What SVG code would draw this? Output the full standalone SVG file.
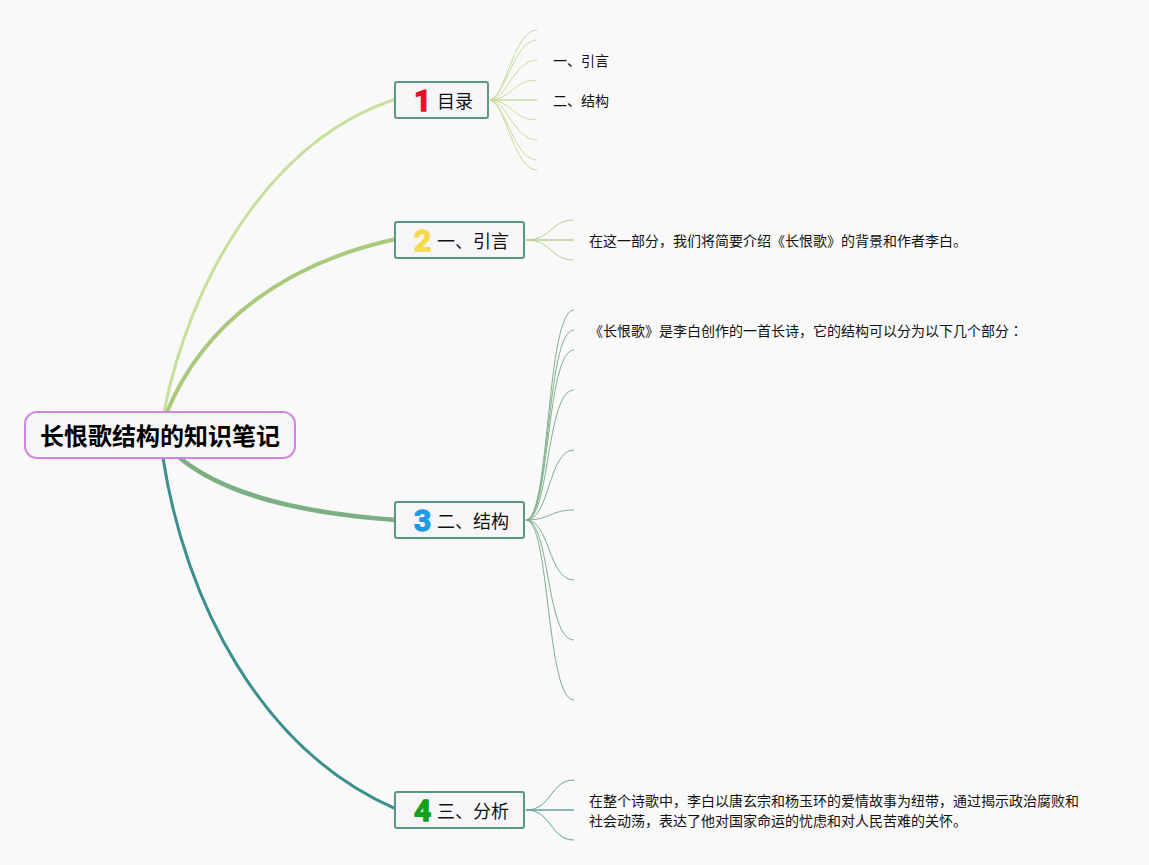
<svg xmlns="http://www.w3.org/2000/svg" width="1149" height="865" viewBox="0 0 1149 865">
<style>
text{font-family:"Noto Sans CJK SC","Noto Sans",sans-serif;fill:#111}
.topic{fill:#f6f6f8;stroke:#5d9585;stroke-width:2}
.tt{font-size:18px}
.num{font-family:Roboto,"Noto Sans",sans-serif;font-weight:700;font-size:30px;stroke-width:1.4;stroke-linejoin:round}
.leaf{font-size:14px}
.m{fill:none;stroke-linecap:round}
.b{fill:none;stroke-width:1}
</style>
<rect width="1149" height="865" fill="#f9f9f9"/>
<g id="connectors">
<path class="m" stroke="#c6e19d" stroke-width="3" d="M164 412C190 280 270 140 396 99"/>
<path class="m" stroke="#a9c97c" stroke-width="4" d="M167 412C205 320 290 262 396 239"/>
<path class="m" stroke="#7daf84" stroke-width="4.5" d="M180 458C225 495 300 513 396 520"/>
<path class="m" stroke="#3b8f8c" stroke-width="3" d="M163 458C185 600 260 750 396 809"/>
<g stroke="#c6de9c">
<path class="b" d="M490 100C506 96 514 30 537 30"/>
<path class="b" d="M490 100C506 96 514 40 537 40"/>
<path class="b" d="M490 100C508 98 514 60 537 60"/>
<path class="b" d="M490 100C510 100 514 80 537 80"/>
<path class="b" d="M490 100H537" style="stroke-width:1.5"/>
<path class="b" d="M490 100C510 100 514 120 537 120"/>
<path class="b" d="M490 100C508 102 514 140 537 140"/>
<path class="b" d="M490 100C506 104 514 160 537 160"/>
<path class="b" d="M490 100C506 104 514 170 537 170"/>
</g>
<g stroke="#b9d08f">
<path class="b" d="M526 240C552 240 550 220 574 220"/>
<path class="b" d="M526 240H574" style="stroke-width:1.5"/>
<path class="b" d="M526 240C552 240 550 260 574 260"/>
</g>
<g stroke="#7fb08c">
<path class="b" d="M526 520C550 520 546 310 574 310"/>
<path class="b" d="M526 520C550 520 546 330 574 330"/>
<path class="b" d="M526 520C550 520 546 350 574 350"/>
<path class="b" d="M526 520C550 520 546 390 574 390"/>
<path class="b" d="M526 520C550 520 548 450 574 450"/>
<path class="b" d="M526 520C550 520 550 510 574 510"/>
<path class="b" d="M526 520C550 520 548 580 574 580"/>
<path class="b" d="M526 520C550 520 546 640 574 640"/>
<path class="b" d="M526 520C550 520 546 700 574 700"/>
</g>
<g stroke="#62a29f">
<path class="b" d="M526 810C552 810 550 780 574 780"/>
<path class="b" d="M526 810H574" style="stroke-width:1.5"/>
<path class="b" d="M526 810C552 810 550 840 574 840"/>
</g>
</g>
<g id="root">
<rect x="25" y="412" width="270" height="46" rx="12" fill="#f6f6f8" stroke="#cf85df" stroke-width="2"/>
<text x="160" y="445" text-anchor="middle" font-size="24" font-weight="700" style="fill:#000">长恨歌结构的知识笔记</text>
</g>
<g id="node1">
<rect class="topic" x="395" y="82" width="93" height="36" rx="2"/>
<text class="num" x="414" y="111" style="fill:#e0132f;stroke:#e0132f">1</text>
<text class="tt" x="437" y="108">目录</text>
</g>
<g id="node2">
<rect class="topic" x="395" y="222" width="129" height="36" rx="2"/>
<text class="num" x="414" y="251" style="fill:#f7da4a;stroke:#f7da4a">2</text>
<text class="tt" x="437" y="248">一、引言</text>
</g>
<g id="node3">
<rect class="topic" x="395" y="502" width="129" height="36" rx="2"/>
<text class="num" x="414" y="531" style="fill:#1f9be0;stroke:#1f9be0">3</text>
<text class="tt" x="437" y="528">二、结构</text>
</g>
<g id="node4">
<rect class="topic" x="395" y="792" width="129" height="36" rx="2"/>
<text class="num" x="414" y="821" style="fill:#12a01c;stroke:#12a01c">4</text>
<text class="tt" x="437" y="818">三、分析</text>
</g>
<g id="leaf-1"><text class="leaf" x="553" y="66">一、引言</text></g>
<g id="leaf-2"><text class="leaf" x="553" y="106">二、结构</text></g>
<g id="leaf-3"><text class="leaf" x="589" y="246">在这一部分，我们将简要介绍《长恨歌》的背景和作者李白。</text></g>
<g id="leaf-4"><text class="leaf" x="589" y="336">《长恨歌》是李白创作的一首长诗，它的结构可以分为以下几个部分<tspan font-family="Noto Sans CJK JP, sans-serif" style="font-family:'Noto Sans CJK JP',sans-serif">：</tspan></text></g>
<g id="leaf-5"><text class="leaf" x="589" y="806">在整个诗歌中，李白以唐玄宗和杨玉环的爱情故事为纽带，通过揭示政治腐败和</text>
<text class="leaf" x="589" y="826">社会动荡，表达了他对国家命运的忧虑和对人民苦难的关怀。</text></g>
</svg>
